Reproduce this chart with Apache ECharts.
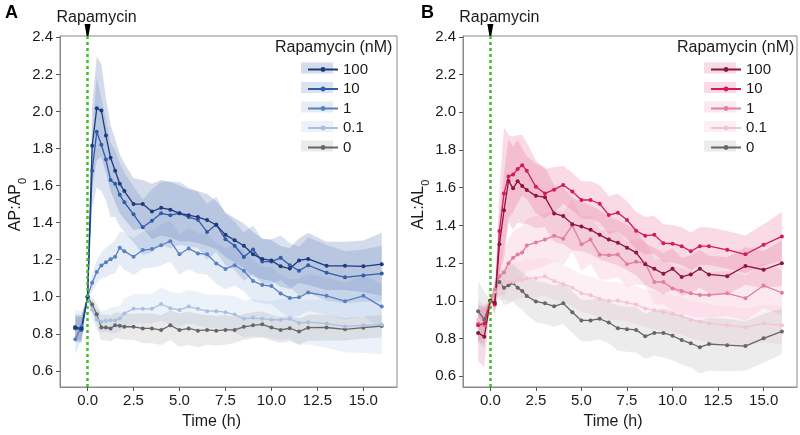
<!DOCTYPE html>
<html><head><meta charset="utf-8">
<script src="https://cdn.jsdelivr.net/npm/echarts@6/dist/echarts.min.js"></script>
<style>html,body{margin:0;padding:0;background:#fff}#c{width:800px;height:435px}</style>
</head><body><div id="c"></div>
<script>
// ---------- data ----------
const time = [-0.67,-0.33,0,0.25,0.5,0.75,1,1.25,1.5,1.75,2,2.5,3,3.5,4,4.5,5,5.5,6,6.5,7,7.5,8,8.5,9,9.5,10,10.5,11,11.5,12,13,14,15,16];
const xTicks = [0,2.5,5,7.5,10,12.5,15];
const yTicks = [0.6,0.8,1.0,1.2,1.4,1.6,1.8,2.0,2.2,2.4];
const doses = ['100','10','1','0.1','0'];

// Panel A  (AP:AP0)
const ap100 = [0.835,0.83,1.0,1.815,2.017,2.005,1.87,1.75,1.68,1.61,1.57,1.50,1.50,1.46,1.48,1.47,1.45,1.44,1.43,1.414,1.387,1.334,1.305,1.275,1.229,1.204,1.196,1.164,1.152,1.196,1.204,1.167,1.167,1.164,1.176];
const ap10  = [0.83,0.82,1.0,1.68,1.89,1.82,1.74,1.63,1.61,1.55,1.51,1.445,1.375,1.41,1.45,1.44,1.45,1.43,1.415,1.35,1.39,1.31,1.275,1.215,1.255,1.19,1.19,1.21,1.17,1.14,1.17,1.13,1.105,1.115,1.125];
const ap1   = [0.77,0.84,1.0,1.076,1.134,1.169,1.186,1.202,1.216,1.264,1.246,1.216,1.252,1.257,1.278,1.30,1.229,1.26,1.234,1.229,1.18,1.15,1.17,1.14,1.085,1.063,1.058,1.018,0.993,0.997,1.023,1.005,0.976,1.005,0.947];
const ap01  = [0.84,0.84,1.0,0.93,0.877,0.865,0.87,0.873,0.873,0.882,0.91,0.935,0.935,0.935,0.961,0.938,0.929,0.947,0.935,0.922,0.922,0.917,0.904,0.881,0.886,0.881,0.876,0.876,0.881,0.858,0.863,0.855,0.84,0.846,0.85];
const ap0   = [0.83,0.83,1.0,0.958,0.905,0.834,0.834,0.829,0.846,0.843,0.838,0.838,0.829,0.829,0.82,0.846,0.82,0.829,0.817,0.821,0.817,0.821,0.821,0.838,0.846,0.851,0.834,0.821,0.83,0.812,0.833,0.834,0.824,0.833,0.842];
// band half-widths
const ap100Err = [0.07,0.07,0,0.22,0.28,0.25,0.2,0.18,0.17,0.16,0.15,0.14,0.13,0.15,0.15,0.15,0.15,0.14,0.14,0.14,0.13,0.12,0.12,0.12,0.12,0.11,0.11,0.11,0.11,0.12,0.14,0.13,0.13,0.14,0.17];
const ap10Err  = [0.07,0.07,0,0.2,0.3,0.25,0.22,0.2,0.18,0.17,0.16,0.15,0.15,0.17,0.17,0.18,0.17,0.16,0.15,0.15,0.15,0.14,0.13,0.13,0.13,0.12,0.12,0.12,0.12,0.13,0.15,0.15,0.14,0.14,0.15];
const ap1Err   = [0.08,0.07,0,0.05,0.06,0.07,0.08,0.08,0.09,0.09,0.1,0.1,0.1,0.1,0.11,0.11,0.11,0.11,0.11,0.11,0.11,0.11,0.11,0.11,0.11,0.1,0.1,0.1,0.1,0.1,0.1,0.1,0.1,0.11,0.12];
const ap01Err  = [0.09,0.08,0,0.05,0.06,0.06,0.06,0.07,0.07,0.07,0.08,0.08,0.08,0.08,0.09,0.09,0.09,0.09,0.09,0.09,0.09,0.09,0.1,0.1,0.1,0.1,0.1,0.11,0.11,0.12,0.12,0.13,0.14,0.15,0.16];
const ap0Err   = [0.06,0.06,0,0.04,0.06,0.07,0.07,0.07,0.07,0.07,0.07,0.07,0.08,0.08,0.08,0.08,0.09,0.09,0.09,0.08,0.08,0.08,0.07,0.07,0.07,0.07,0.07,0.07,0.07,0.07,0.07,0.07,0.06,0.06,0.06];

// Panel B  (AL:AL0)
const al100 = [0.83,0.81,1.0,0.99,1.30,1.48,1.636,1.597,1.635,1.609,1.588,1.557,1.55,1.464,1.45,1.407,1.394,1.377,1.35,1.325,1.308,1.282,1.256,1.194,1.17,1.144,1.17,1.127,1.14,1.17,1.14,1.131,1.185,1.165,1.2];
const al10  = [0.87,0.88,1.0,0.98,1.37,1.57,1.66,1.67,1.70,1.72,1.69,1.605,1.57,1.59,1.615,1.58,1.535,1.535,1.515,1.455,1.468,1.429,1.372,1.346,1.35,1.306,1.303,1.29,1.263,1.29,1.29,1.271,1.247,1.297,1.342];
const al1   = [0.88,0.87,1.0,1.06,1.13,1.15,1.2,1.229,1.246,1.256,1.294,1.31,1.325,1.346,1.33,1.40,1.30,1.325,1.245,1.242,1.246,1.194,1.208,1.2,1.1,1.1,1.066,1.052,1.04,1.031,1.031,1.04,1.014,1.081,1.043];
const al01  = [0.9,0.88,1.0,1.05,1.08,1.1,1.1,1.1,1.11,1.11,1.12,1.12,1.13,1.105,1.09,1.07,1.04,1.03,1.01,1.0,1.0,0.99,0.98,0.96,0.95,0.94,0.93,0.92,0.9,0.89,0.88,0.87,0.86,0.88,0.87];
const al0   = [0.945,0.90,1.0,1.05,1.10,1.069,1.083,1.095,1.069,1.052,1.026,0.997,0.987,0.971,0.987,0.94,0.896,0.896,0.905,0.885,0.855,0.85,0.846,0.812,0.83,0.83,0.815,0.792,0.775,0.754,0.771,0.765,0.76,0.801,0.838];
const al100Err = [0.15,0.16,0,0.05,0.15,0.2,0.22,0.22,0.22,0.2,0.18,0.17,0.16,0.15,0.15,0.14,0.13,0.13,0.13,0.12,0.12,0.12,0.12,0.11,0.11,0.11,0.11,0.1,0.1,0.1,0.1,0.1,0.1,0.1,0.12];
const al10Err  = [0.08,0.08,0,0.06,0.22,0.35,0.22,0.2,0.18,0.16,0.15,0.14,0.13,0.12,0.1,0.1,0.1,0.1,0.1,0.1,0.1,0.1,0.1,0.1,0.1,0.1,0.1,0.1,0.1,0.1,0.1,0.1,0.1,0.11,0.13];
const al1Err   = [0.1,0.1,0,0.06,0.1,0.12,0.13,0.14,0.14,0.14,0.14,0.14,0.14,0.14,0.14,0.14,0.14,0.13,0.13,0.13,0.12,0.12,0.12,0.12,0.12,0.12,0.12,0.12,0.12,0.12,0.12,0.12,0.12,0.12,0.12];
const al01Err  = [0.1,0.1,0,0.05,0.08,0.09,0.1,0.1,0.1,0.1,0.1,0.1,0.1,0.1,0.1,0.1,0.1,0.1,0.1,0.1,0.1,0.1,0.1,0.1,0.1,0.1,0.1,0.1,0.1,0.1,0.1,0.1,0.1,0.1,0.1];
const al0Err   = [0.16,0.15,0,0.06,0.08,0.09,0.1,0.1,0.1,0.1,0.1,0.11,0.11,0.11,0.11,0.11,0.11,0.11,0.11,0.11,0.12,0.12,0.12,0.12,0.12,0.13,0.13,0.13,0.13,0.14,0.14,0.14,0.13,0.13,0.12];

// ---------- styles ----------
const FONT = '"Liberation Sans", Arial, sans-serif';
const TXT = '#1a1a1a';
const panels = [
  { key:'A', means:[ap100,ap10,ap1,ap01,ap0], errs:[ap100Err,ap10Err,ap1Err,ap01Err,ap0Err],
    colors:['#1d3b7c','#2f5ca8','#5580c2','#a9bfe3','#666666'],
    bands:['rgba(60,95,165,0.22)','rgba(75,110,180,0.20)','rgba(105,140,200,0.17)','rgba(170,195,232,0.22)','rgba(150,150,150,0.20)'],
    ymin:0.513, ymax:2.407, grid:{left:60, top:36, width:337, height:359}, yname:'{m|AP:AP}{s|0}' },
  { key:'B', means:[al100,al10,al1,al01,al0], errs:[al100Err,al10Err,al1Err,al01Err,al0Err],
    colors:['#8f1539','#d41a5b','#e27ca0','#f3c3d4','#666666'],
    bands:['rgba(205,60,110,0.18)','rgba(232,85,135,0.22)','rgba(236,135,170,0.18)','rgba(246,195,214,0.25)','rgba(150,150,150,0.18)'],
    ymin:0.543, ymax:2.405, grid:{left:463, top:36, width:334, height:359}, yname:'{m|AL:AL}{s|0}' }
];

const grids=[], xAxes=[], yAxes=[], series=[], legends=[], graphics=[];
panels.forEach((p, gi) => {
  grids.push(Object.assign({show:true, borderColor:'#8a8a8a', borderWidth:1}, p.grid));
  xAxes.push({ gridIndex:gi, type:'value', min:-1.5, max:16.83,
    axisLine:{show:true, onZero:false, lineStyle:{color:'#8a8a8a'}},
    axisTick:{show:true, length:4, customValues:xTicks, lineStyle:{color:'#555'}},
    axisLabel:{customValues:xTicks, formatter:v=>v.toFixed(1), fontSize:15, color:TXT, fontFamily:FONT, margin:6},
    splitLine:{show:false},
    name:'Time (h)', nameLocation:'middle', nameGap:27,
    nameTextStyle:{fontSize:16, color:TXT, fontFamily:FONT, padding:[0,34,0,0]} });
  yAxes.push({ gridIndex:gi, type:'value', min:p.ymin, max:p.ymax,
    axisLine:{show:true, onZero:false, lineStyle:{color:'#8a8a8a'}},
    axisTick:{show:true, length:4, customValues:yTicks, lineStyle:{color:'#555'}},
    axisLabel:{customValues:yTicks, formatter:v=>v.toFixed(1), fontSize:15, color:TXT, fontFamily:FONT, margin:7},
    splitLine:{show:false},
    name:p.yname, nameLocation:'middle', nameGap:32, nameRotate:90,
    nameTextStyle:{color:TXT, fontFamily:FONT, padding:[0,0,0,14],
      rich:{ m:{fontSize:16, color:TXT, fontFamily:FONT, verticalAlign:'bottom', padding:[0,0,4,0]},
             s:{fontSize:11, color:TXT, fontFamily:FONT, verticalAlign:'bottom'} } } });
  // bands
  p.means.forEach((mean, si) => {
    const err = p.errs[si];
    series.push({ type:'custom', xAxisIndex:gi, yAxisIndex:gi, silent:true, z:1, data:[[0,1]],
      renderItem:(params, api) => {
        const pts=[];
        for (let i=0;i<time.length;i++) pts.push(api.coord([time[i], mean[i]+err[i]]));
        for (let i=time.length-1;i>=0;i--) pts.push(api.coord([time[i], mean[i]-err[i]]));
        return {type:'polygon', shape:{points:pts}, style:{fill:p.bands[si]}};
      } });
  });
  // lines (lowest dose first so high doses are on top)
  for (let si=p.means.length-1; si>=0; si--) {
    const mean=p.means[si], c=p.colors[si];
    const s = { name:p.key+doses[si], type:'line', xAxisIndex:gi, yAxisIndex:gi, z:3,
      data: time.map((t,i)=>[t, mean[i]]),
      symbol:'circle', symbolSize:4, showSymbol:true,
      lineStyle:{width:1.3, color:c}, itemStyle:{color:c}, emphasis:{disabled:true} };
    if (si===0) {
      s.markLine = { silent:true, symbol:['none','none'], label:{show:false}, z:5,
        lineStyle:{color:'#3cc21f', width:2.5, type:[3,3]}, data:[{xAxis:0}] };
      s.markPoint = { silent:true, z:6, data:[{ coord:[0, p.ymax],
        symbol:'path://M0,0 L10,0 L6.5,22 L3.5,22 Z', symbolSize:[6,12], symbolOffset:[0,-6],
        itemStyle:{color:'#000'},
        label:{show:true, formatter:'Rapamycin', position:'top', distance:2, offset:[9,4], color:TXT, fontSize:16, fontFamily:FONT} }] };
    }
    series.push(s);
  }
  const lx = p.grid.left + 242;
  legends.push({ data:doses.map(d=>p.key+d), orient:'vertical', left:lx, top:57,
    itemWidth:30, itemHeight:6, itemGap:4.5, selectedMode:false,
    formatter:n=>n.slice(1), textStyle:{fontSize:15, color:TXT, fontFamily:FONT} });
  // light band swatches behind the legend lines
  doses.forEach((d, k) => {
    graphics.push({ type:'rect', z:-1, shape:{x:lx-1, y:62.5+19.5*k, width:32, height:11},
      style:{fill:p.bands[k]} });
  });
});

graphics.push(
  {type:'text', left:5, top:4, style:{text:'A', fill:'#000', font:'bold 18px '+FONT}},
  {type:'text', left:421, top:4, style:{text:'B', fill:'#000', font:'bold 18px '+FONT}},
  {type:'text', left:275, top:40, style:{text:'Rapamycin (nM)', fill:TXT, font:'16px '+FONT}},
  {type:'text', left:677, top:40, style:{text:'Rapamycin (nM)', fill:TXT, font:'16px '+FONT}}
);

const chart = echarts.init(document.getElementById('c'), null, {renderer:'canvas'});
chart.setOption({
  animation:false, backgroundColor:'#fff',
  grid:grids, xAxis:xAxes, yAxis:yAxes, series:series, legend:legends, graphic:graphics
});
</script></body></html>
